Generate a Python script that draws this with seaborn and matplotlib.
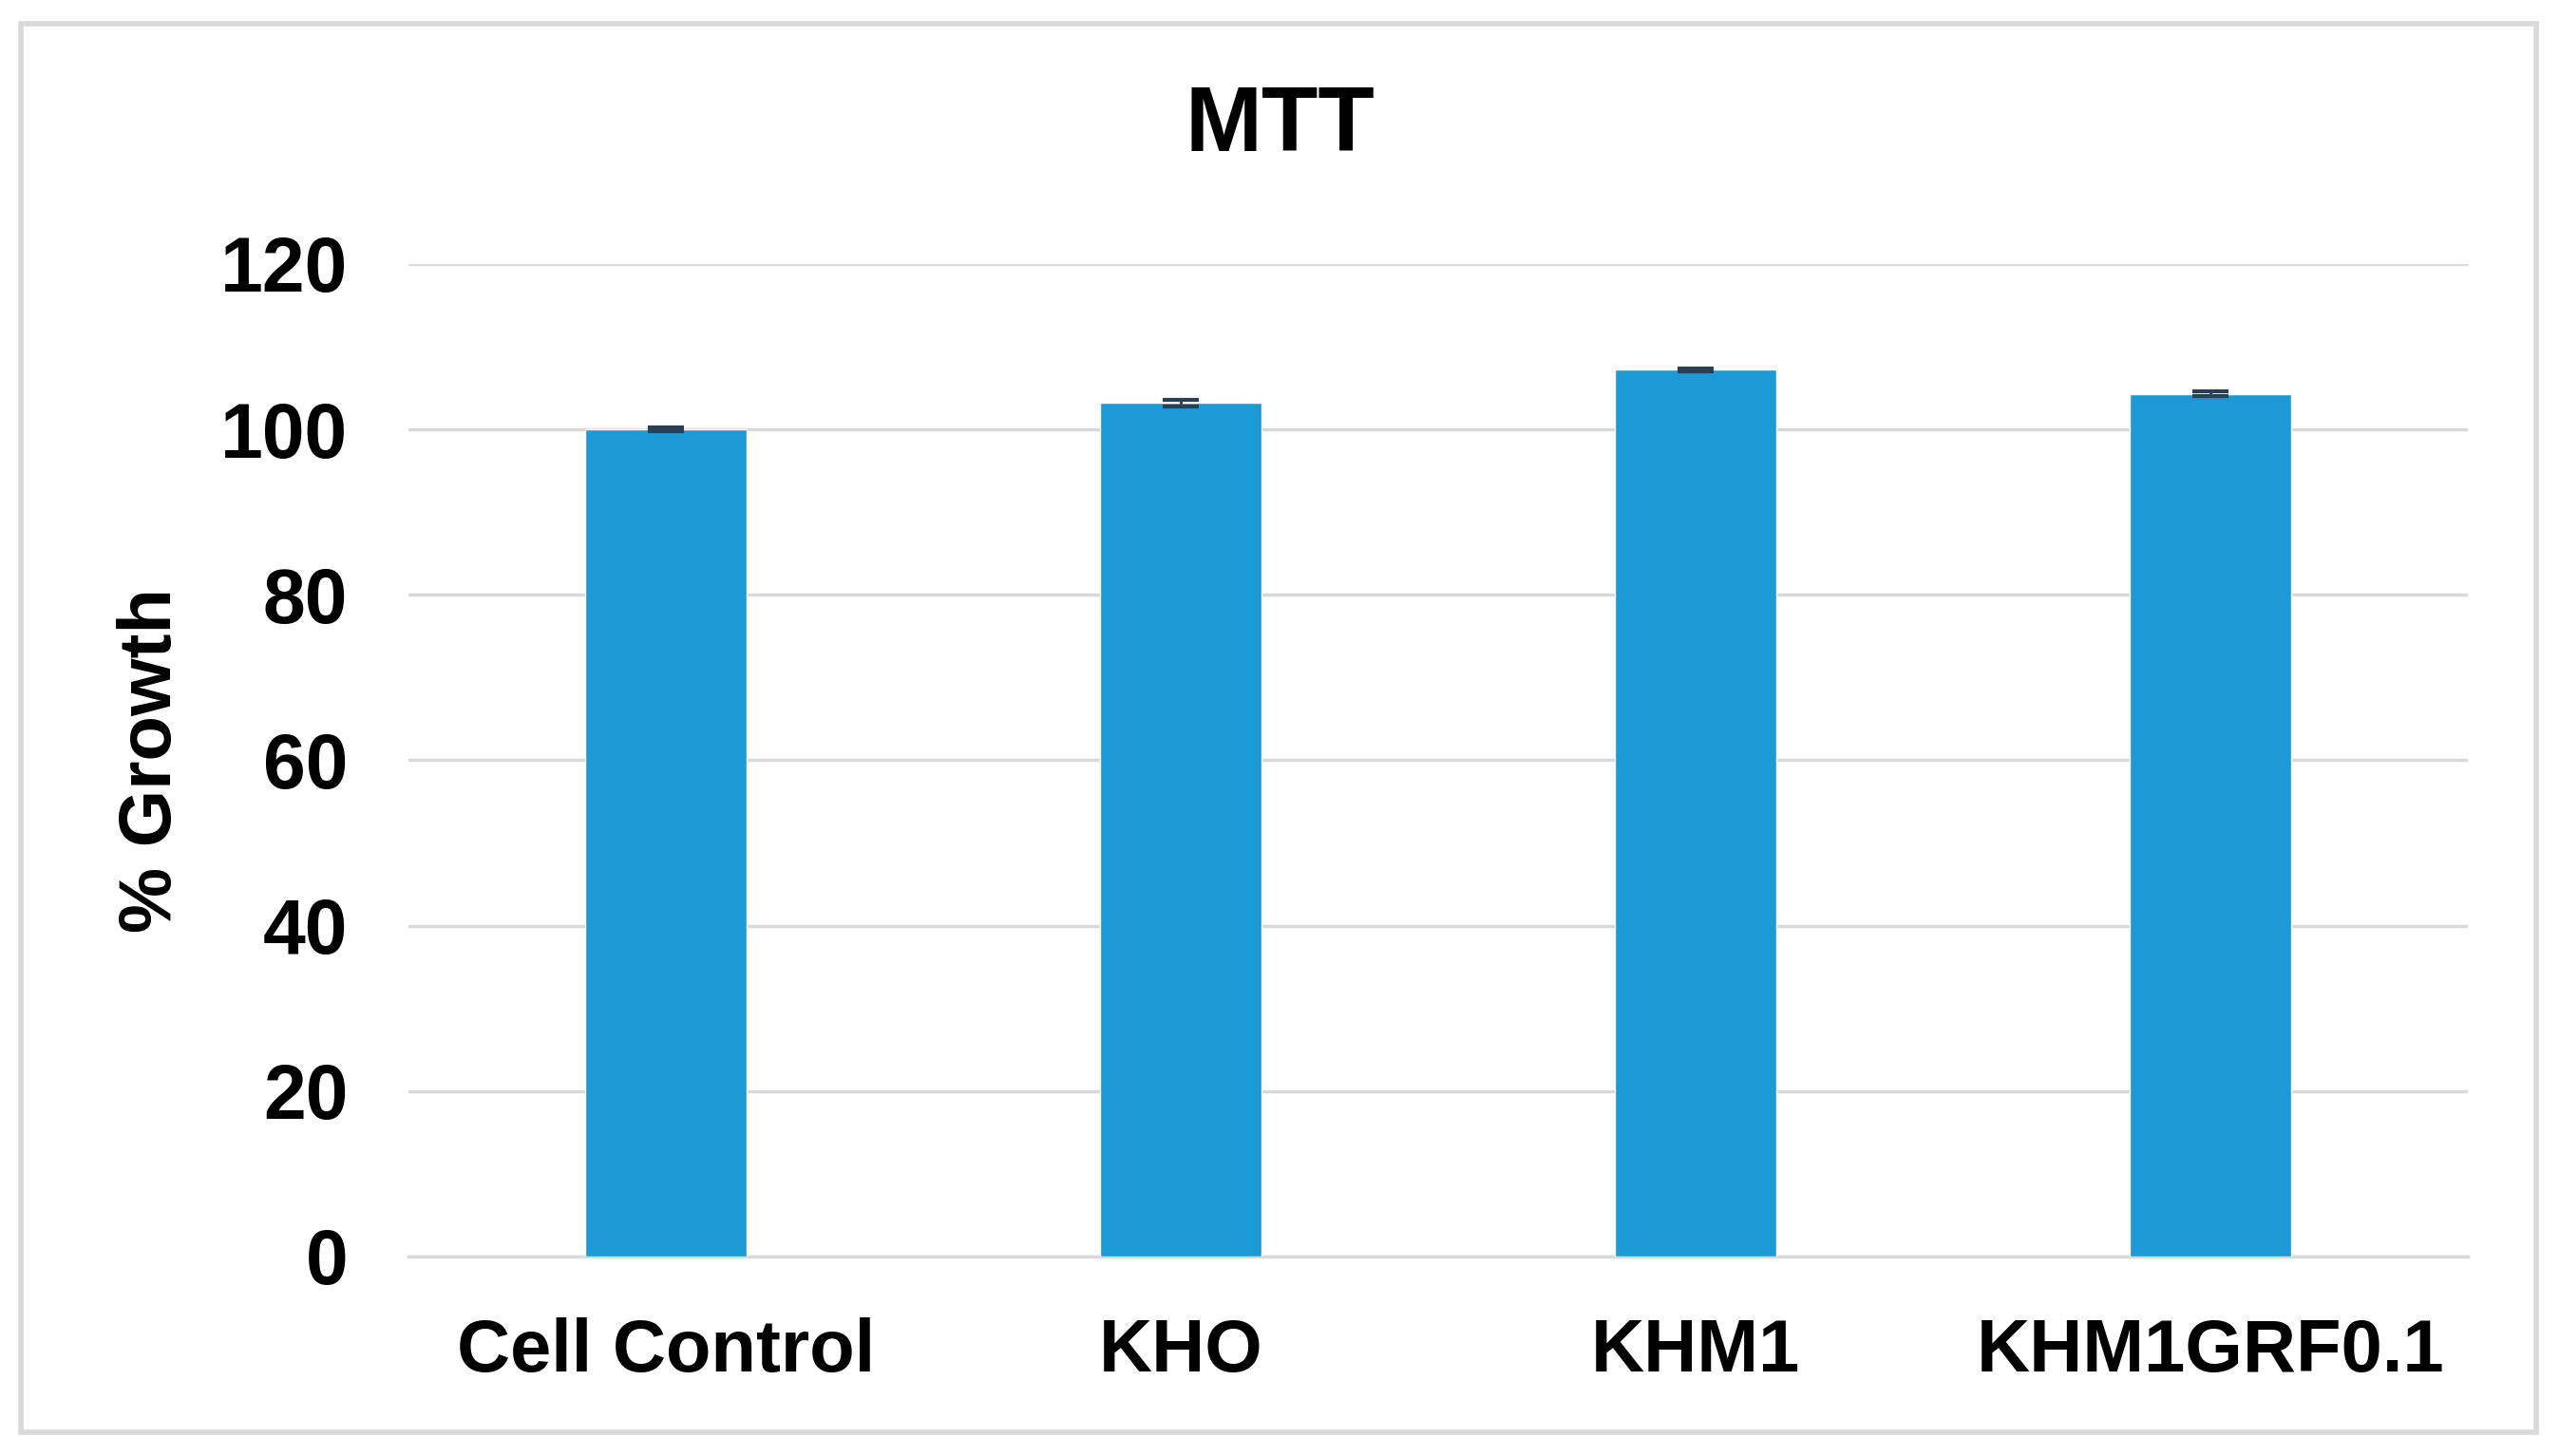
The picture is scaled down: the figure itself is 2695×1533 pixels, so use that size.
import matplotlib.pyplot as plt
import pandas as pd
import seaborn as sns
from matplotlib.patches import Rectangle

# values
groups = ["Cell Control", "KHO", "KHM1", "KHM1GRF0.1"]
growth = [100.0, 103.2, 107.2, 104.3]
growth_err = [0.2, 0.4, 0.2, 0.3]
y_ticks = [0, 20, 40, 60, 80, 100, 120]

df = pd.DataFrame({"group": groups, "growth": growth, "err": growth_err})

sns.set_theme(style="white")
plt.rcParams["font.family"] = ["Liberation Sans", "DejaVu Sans"]

fig = plt.figure(figsize=(26.95, 15.33), dpi=100)
ax = fig.add_axes([0.1596, 0.137, 0.8044, 0.6817])

sns.barplot(data=df, x="group", y="growth", color="#1B9AD6", saturation=1,
            width=0.315, errorbar=None, ax=ax, zorder=3)
ax.errorbar(range(len(groups)), df["growth"], yerr=df["err"], fmt="none",
            ecolor="#2b3f52", elinewidth=2, capsize=14, capthick=3, zorder=4)

ax.set_xlim(-0.5, len(groups) - 0.5)
ax.set_ylim(0, 120)
ax.set_yticks(y_ticks)
ax.grid(axis="y", color="#d9d9d9", linewidth=2.5, zorder=0)
ax.set_axisbelow(True)
for side in ["top", "right", "left"]:
    ax.spines[side].set_visible(False)
ax.spines["bottom"].set_color("#d9d9d9")
ax.spines["bottom"].set_linewidth(2.5)

ax.tick_params(axis="y", length=0, pad=46, labelsize=58, labelcolor="black")
ax.tick_params(axis="x", length=0, pad=46, labelsize=56, labelcolor="black")
for lab in ax.get_xticklabels() + ax.get_yticklabels():
    lab.set_fontweight("bold")

ax.set_xlabel("")
ax.set_ylabel("% Growth", fontsize=56, fontweight="bold", labelpad=26, color="black")
fig.text(0.5, 1 - 134 / 1533, "MTT", fontsize=70, fontweight="bold",
         ha="center", va="center", color="black")

# grey frame round the whole chart
fig.patches.append(Rectangle((22 / 2695, 1 - 1508 / 1533), (2670 - 22) / 2695,
                             (1508 - 25) / 1533, transform=fig.transFigure,
                             fill=False, edgecolor="#d9d9d9", linewidth=4))

fig.savefig("out.png", dpi=100)
